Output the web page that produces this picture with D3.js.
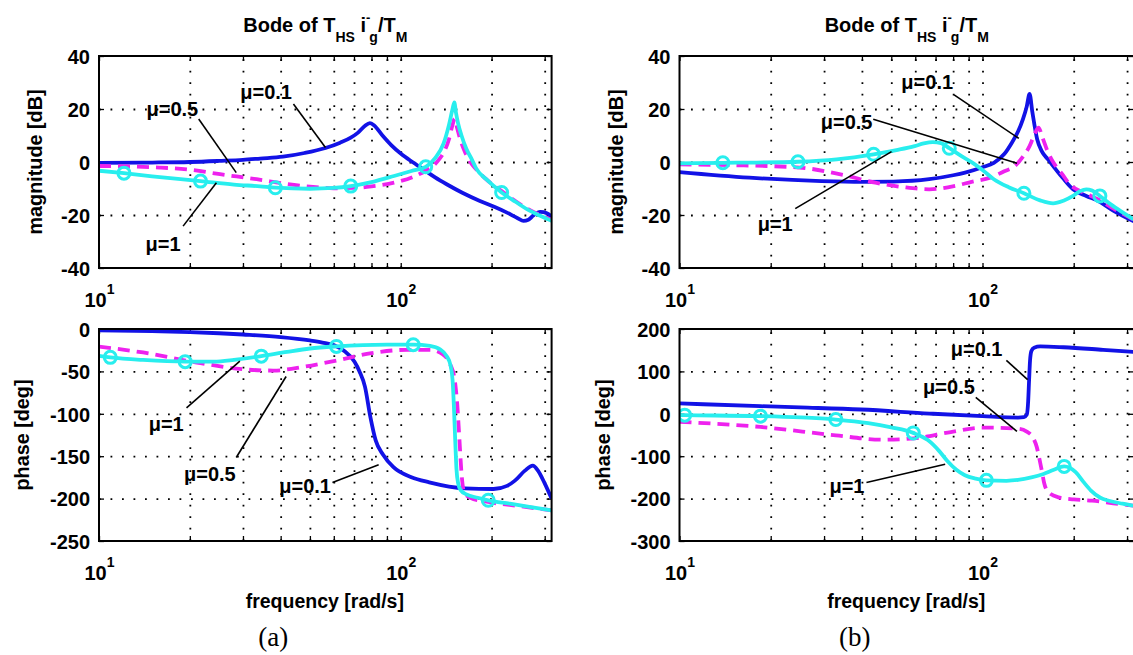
<!DOCTYPE html>
<html>
<head>
<meta charset="utf-8">
<script src="https://cdn.jsdelivr.net/npm/d3@7/dist/d3.min.js"></script>
<style>
  html, body { margin: 0; padding: 0; background: #fff; }
  svg { display: block; }
</style>
</head>
<body>
<svg id="chart" width="1133" height="655"></svg>
<script>
// ---- axis values ----
const freqDomain = [10, 316.23];
const freqGridTicks = [20, 30, 40, 50, 60, 70, 80, 90, 100, 200, 300];
const freqTickMarks = [10, 20, 30, 40, 50, 60, 70, 80, 90, 100, 200, 300];
const freqLabelTicks = [10, 100];
const magTicks = [-40, -20, 0, 20, 40];
const phaseTicksA = [-250, -200, -150, -100, -50, 0];
const phaseTicksB = [-300, -200, -100, 0, 100, 200];

// ---- (a) magnitude, [rad/s, dB] ----
const magA_mu01 = [[10,-0.3],[15,-0.2],[20,0],[25,0.4],[30,0.8],[34.2,1.3],[40.7,2],[48,3.4],[56.3,5.3],[63,7.3],[68.3,9.2],[72.2,11.1],[76,13.6],[79,14.7],[81.5,13.9],[87,10],[93,6.4],[100,3.2],[110,-0.2],[121,-3.4],[130,-5.8],[142,-8.4],[160,-11.6],[183,-14.7],[205,-17],[225,-19.1],[245,-21.3],[255,-22.2],[265,-21.8],[275,-20.2],[290,-18.8],[305,-19.3],[316.23,-20.6]];
const magA_mu05 = [[10,-1.5],[15.9,-2.1],[20,-2.9],[25.2,-4.6],[33.3,-6.5],[42,-8.3],[50,-9.3],[60,-9.9],[70,-9.8],[80,-9.2],[95,-7.8],[110,-5.6],[121,-3.3],[128,-1.5],[134,1],[138.7,3.5],[144.5,8.6],[148.5,14],[151,16.3],[154,12.5],[158,8],[163,4],[170,0],[178,-2.8],[192,-6.5],[216,-11],[262,-17.5],[316.23,-21.8]];
const magA_mu1 = [[10,-3.3],[12.1,-4.2],[15,-5.4],[21.7,-7.2],[28,-8.5],[34.2,-9.2],[38.4,-9.7],[50,-10.1],[60,-9.8],[68.3,-9.1],[80,-7.6],[95,-5.3],[108.5,-3.4],[121,-1.8],[130,1.5],[138.7,7],[144.5,14],[148.5,20],[150.5,22.5],[152.5,18.5],[155,14.5],[159,10],[165,5],[172,1],[178,-2.5],[192,-6.5],[216,-11.5],[240,-15],[262,-17.8],[290,-20.3],[316.23,-22.2]];
const magA_mu1Marks = [[12.1,-4.2],[21.7,-7.2],[38.4,-9.7],[68.3,-9.1],[121,-1.8],[216,-11.5]];

// ---- (a) phase, [rad/s, deg] ----
const phaseA_mu01 = [[10,-1.6],[15,-2.5],[20,-3.6],[25,-5],[30,-6.5],[40,-9.5],[50,-13.5],[55,-16],[60.4,-19.5],[65,-26],[70.2,-38.4],[73,-50],[76.1,-68],[79.3,-103.6],[82.6,-131.3],[87.3,-148],[94.6,-163],[108.5,-174.8],[124.3,-180.8],[163,-187.9],[203,-188.7],[225,-185],[239,-178.8],[258,-167],[274,-161],[285,-167],[300,-182],[316.23,-200]];
const phaseA_mu05 = [[10,-20.8],[14,-27.7],[21.7,-40.3],[30,-47.5],[38,-49],[48,-44.3],[61.2,-37.2],[80,-28.5],[105,-24.5],[125,-24.5],[138,-30],[146,-42],[151,-60],[154,-90],[156.5,-130],[159,-170],[162,-192],[170,-199],[195,-204],[250,-209],[316.23,-214]];
const phaseA_mu1 = [[10,-31.6],[10.9,-33.4],[14,-36.5],[19.3,-38.5],[24,-38.5],[28,-36.5],[34.5,-32],[42,-27],[50,-23],[61.2,-20.5],[75,-19],[90,-18.5],[110,-18.5],[125,-20],[135,-24],[142,-32],[146,-42],[148.5,-60],[150,-90],[151.5,-130],[153,-165],[155,-182],[158,-190],[165,-195],[180,-199],[195,-202],[230,-206],[270,-210],[316.23,-214]];
const phaseA_mu1Marks = [[10.9,-33.4],[19.3,-38.5],[34.5,-32],[61.2,-20.5],[110,-18.5],[195,-202]];

// ---- (b) magnitude, [rad/s, dB] ----
const magB_mu01 = [[10,-3.8],[17,-5.9],[29.4,-7.2],[40,-7.5],[50.8,-7.4],[66.7,-6.5],[80,-5],[87.6,-4],[100,-2],[109,-0.3],[118,3],[125,7.3],[131,11.5],[136,16.2],[140,21],[143,25.7],[146,19],[151.5,8.6],[157,4],[164.5,1],[183.6,-5.9],[199,-10.3],[220,-12.8],[241,-14.7],[270,-18.3],[316.23,-22.4]];
const magB_mu05 = [[10,-0.9],[15,-1.2],[24.9,-2.1],[35,-5],[44.3,-7.8],[55,-9.5],[66.7,-10.3],[80.5,-9.1],[92,-7.5],[106,-5.9],[118,-3.5],[128,-1.5],[136,2],[143,6],[148,10],[153,13],[158,9],[164,4],[172,-0.5],[183,-4.5],[194,-8.4],[215,-11.5],[241,-14.1],[270,-17.5],[316.23,-21.8]];
const magB_mu1 = [[10,-0.5],[13.9,-0.3],[18,-0.2],[24.6,0.1],[33,1],[43.7,2.9],[52,4.5],[59.7,6],[64,7],[68.6,7.5],[73,7.1],[77.7,5.2],[85,2.3],[92.8,-0.3],[100,-3],[109,-6.5],[122,-9.5],[137,-11.8],[155,-14.5],[171,-15.6],[185,-14.6],[199,-12.8],[210,-11],[220,-10.3],[230,-10.8],[244,-12.8],[265,-16],[290,-19],[316.23,-21.7]];
const magB_mu1Marks = [[13.9,-0.3],[24.6,0.1],[43.7,2.9],[77.7,5.2],[137,-11.8],[244,-12.8]];

// ---- (b) phase, [rad/s, deg] ----
const phaseB_mu01 = [[10,24.4],[18.5,18],[25,15],[39.7,10.1],[66.8,0.6],[100,-5.7],[131,-8.9],[137,-8],[140,-2],[141.5,30],[142.5,80],[143.5,125],[145,148],[148,156],[155,158.9],[185,157],[250,151],[316.23,146]];
const phaseB_mu05 = [[10,-19],[18.5,-31],[32.8,-50.8],[46.7,-61],[58,-58.7],[78.6,-43],[100,-32.6],[131,-35],[140,-42],[147,-57],[151,-78],[154,-105],[157,-135],[160,-165],[165,-185],[178,-197],[200,-202],[230,-205],[270,-211],[316.23,-217]];
const phaseB_mu1 = [[10,-3],[10.4,-3.2],[18.5,-5.5],[25,-8.5],[32.8,-13.5],[42,-22],[50,-32],[59.1,-45],[66,-62],[72,-88],[76.3,-110],[82,-132],[87.5,-145],[95,-153],[103,-157],[120,-158],[131,-156],[145,-150],[159,-141.8],[172,-132],[186,-124],[203,-137.8],[215,-160],[228,-181],[245,-198],[261,-205],[290,-212],[316.23,-217]];
const phaseB_mu1Marks = [[10.4,-3.2],[18.5,-5.5],[32.8,-13.5],[59.1,-45],[103,-157],[186,-124]];

// ---- curve labels: text anchor and leader line, in data units ----
const notesMagA = [
  { label: "μ=0.1", at: [35.8, 26.5], line: [[44.1, 21.9], [56.3, 5.5]] },
  { label: "μ=0.5", at: [17.5, 19.9], line: [[21.4, 16.2], [28.5, -4]] },
  { label: "μ=1",   at: [16.3, -31],  line: [[19.0, -24.2], [24.5, -7.8]] }
];
const notesPhaseA = [
  { label: "μ=1",   at: [16.7, -112], line: [[19.5, -93], [29.3, -38]] },
  { label: "μ=0.5", at: [23.3, -171], line: [[28.5, -151.5], [41.7, -56]] },
  { label: "μ=0.1", at: [48.2, -185], line: [[59.4, -181], [84.5, -160]] }
];
const notesMagB = [
  { label: "μ=0.1", at: [65.7, 30.4], line: [[80.6, 25.3], [131.8, 8.9]] },
  { label: "μ=0.5", at: [35.6, 15.3], line: [[43.6, 16.1], [130, -0.5]] },
  { label: "μ=1",   at: [20.7, -23.3], line: [[24.1, -17.6], [50.1, 3.9]] }
];
const notesPhaseB = [
  { label: "μ=0.1", at: [95.6, 153.8], line: [[119.9, 126], [140.9, 80.4]] },
  { label: "μ=0.5", at: [77.5, 64.6], line: [[95, 38.7], [129.9, -41.3]] },
  { label: "μ=1",   at: [35.7, -170], line: [[41.4, -162], [75.3, -118.9]] }
];

// ---- styles and layout ----
const SANS = '"Liberation Sans", Arial, Helvetica, sans-serif';
const SERIF = '"Liberation Serif", "Times New Roman", serif';
const COL_MU01 = "#1212e6", COL_MU05 = "#ee22ee", COL_MU1 = "#28eeee";

const columns = {
  a: { left: 99, right: 551.6, caption: "(a)" },
  b: { left: 679.5, right: 1134, caption: "(b)" }
};
const rows = {
  mag:   { top: 56,  bottom: 268, yDomain: [-40, 40], label: "magnitude [dB]", labelOffset: 64 },
  phase: { top: 329, bottom: 541, label: "phase [deg]", labelOffset: 77 }
};

const svg = d3.select("#chart");
svg.append("rect").attr("width", 1133).attr("height", 655).attr("fill", "#fff");

let clipCount = 0;

function drawPanel(col, row, yDomain, yTicks, curves, marks, notes, withTitle) {
  const x = d3.scaleLog().domain(freqDomain).range([col.left, col.right]);
  const y = d3.scaleLinear().domain(yDomain).range([row.bottom, row.top]);
  const w = col.right - col.left, h = row.bottom - row.top;
  const g = svg.append("g");

  const clipId = "plotclip" + (clipCount++);
  svg.append("clipPath").attr("id", clipId)
    .append("rect").attr("x", col.left).attr("y", row.top).attr("width", w).attr("height", h);

  // dotted grid
  const gridStyle = s => {
    s.select(".domain").remove();
    s.selectAll(".tick line")
      .attr("stroke", "#000").attr("stroke-width", 1.8)
      .attr("stroke-dasharray", "1.8,9.7");
  };
  g.append("g").attr("transform", `translate(0,${row.bottom})`)
    .call(d3.axisBottom(x).tickValues(freqGridTicks).tickSize(-h).tickFormat(""))
    .call(gridStyle);
  g.append("g").attr("transform", `translate(${col.left},0)`)
    .call(d3.axisLeft(y).tickValues(yTicks.slice(1, -1)).tickSize(-w).tickFormat(""))
    .call(gridStyle);

  // inner tick marks
  const tickStyle = s => {
    s.select(".domain").remove();
    s.selectAll(".tick line").attr("stroke", "#000").attr("stroke-width", 1.3);
  };
  g.append("g").attr("transform", `translate(0,${row.bottom})`)
    .call(d3.axisBottom(x).tickValues(freqTickMarks).tickSize(-5).tickFormat("")).call(tickStyle);
  g.append("g").attr("transform", `translate(0,${row.top})`)
    .call(d3.axisTop(x).tickValues(freqTickMarks).tickSize(-5).tickFormat("")).call(tickStyle);
  g.append("g").attr("transform", `translate(${col.right},0)`)
    .call(d3.axisRight(y).tickValues(yTicks).tickSize(-5).tickFormat("")).call(tickStyle);

  // y tick labels
  g.append("g").attr("transform", `translate(${col.left},0)`)
    .call(d3.axisLeft(y).tickValues(yTicks).tickSize(5).tickSizeOuter(0).tickPadding(4).tickFormat(d3.format("d")))
    .call(s => {
      s.select(".domain").remove();
      s.selectAll(".tick line").attr("stroke", "#000").attr("stroke-width", 1.3).attr("x2", 5);
      s.selectAll(".tick text")
        .attr("x", -9).attr("dy", "0.36em")
        .attr("font-family", SANS).attr("font-weight", "bold").attr("font-size", 20)
        .attr("fill", "#000")
        .text(d => d < 0 ? "-" + Math.abs(d) : String(d));
    });

  // x tick labels: 10^1, 10^2
  g.append("g").attr("transform", `translate(0,${row.bottom})`)
    .call(d3.axisBottom(x).tickValues(freqLabelTicks).tickSize(0).tickFormat(""))
    .call(s => {
      s.select(".domain").remove();
      s.selectAll(".tick text").remove();
      s.selectAll(".tick").append("text")
        .attr("y", 38.5).attr("text-anchor", "middle").attr("fill", "#000")
        .attr("font-family", SANS).attr("font-weight", "bold").attr("font-size", 20)
        .each(function (d) {
          const t = d3.select(this);
          t.append("tspan").text("10");
          t.append("tspan").attr("font-size", 14).attr("dy", -13).text(String(Math.round(Math.log10(d))));
        });
    });

  // curves
  const line = d3.line().x(d => x(d[0])).y(d => y(d[1])).curve(d3.curveMonotoneX);
  const plot = g.append("g").attr("clip-path", `url(#${clipId})`);
  curves.forEach(c => {
    plot.append("path").datum(c.data)
      .attr("d", line).attr("fill", "none")
      .attr("stroke", c.color).attr("stroke-width", 3.8)
      .attr("stroke-linejoin", "round")
      .attr("stroke-dasharray", c.dash || null);
  });
  plot.selectAll("circle.mk").data(marks).join("circle").attr("class", "mk")
    .attr("cx", d => x(d[0])).attr("cy", d => y(d[1])).attr("r", 6)
    .attr("fill", "none").attr("stroke", COL_MU1).attr("stroke-width", 3);

  // frame
  g.append("rect").attr("x", col.left).attr("y", row.top).attr("width", w).attr("height", h)
    .attr("fill", "none").attr("stroke", "#000").attr("stroke-width", 2);

  // curve labels with leader lines
  notes.forEach(n => {
    g.append("line")
      .attr("x1", x(n.line[0][0])).attr("y1", y(n.line[0][1]))
      .attr("x2", x(n.line[1][0])).attr("y2", y(n.line[1][1]))
      .attr("stroke", "#000").attr("stroke-width", 1.6);
    g.append("text")
      .attr("x", x(n.at[0])).attr("y", y(n.at[1])).attr("dy", "0.36em")
      .attr("text-anchor", "middle").attr("fill", "#000")
      .attr("font-family", SANS).attr("font-weight", "bold").attr("font-size", 20)
      .text(n.label);
  });

  // axis title
  g.append("text")
    .attr("transform", `translate(${col.left - row.labelOffset},${(row.top + row.bottom) / 2}) rotate(-90)`)
    .attr("dy", "0.36em").attr("text-anchor", "middle").attr("fill", "#000")
    .attr("font-family", SANS).attr("font-weight", "bold").attr("font-size", 19.8)
    .text(row.label);

  if (withTitle) {
    const t = g.append("text")
      .attr("x", (col.left + col.right) / 2).attr("y", 31.5)
      .attr("text-anchor", "middle").attr("fill", "#000")
      .attr("font-family", SANS).attr("font-weight", "bold").attr("font-size", 20);
    t.append("tspan").text("Bode of T");
    t.append("tspan").attr("font-size", 14).attr("dy", 10.5).text("HS");
    t.append("tspan").attr("dy", -10.5).text(" i");
    t.append("tspan").attr("font-size", 13).attr("dy", -9.3).text("-");
    t.append("tspan").attr("font-size", 14).attr("dx", -1).attr("dy", 19.8).text("g");
    t.append("tspan").attr("dy", -10.5).text("/T");
    t.append("tspan").attr("font-size", 14).attr("dy", 10.5).text("M");
  } else {
    g.append("text")
      .attr("x", (col.left + col.right) / 2 - 0.5).attr("y", 601).attr("dy", "0.36em")
      .attr("text-anchor", "middle").attr("fill", "#000")
      .attr("font-family", SANS).attr("font-weight", "bold").attr("font-size", 19.5)
      .text("frequency [rad/s]");
    g.append("text")
      .attr("x", (col.left + col.right) / 2 - 52).attr("y", 646)
      .attr("text-anchor", "middle").attr("fill", "#000")
      .attr("font-family", SERIF).attr("font-size", 27)
      .text(col.caption);
  }
}

const series = (d01, d05, d1) => [
  { data: d01, color: COL_MU01 },
  { data: d05, color: COL_MU05, dash: "12,7" },
  { data: d1,  color: COL_MU1 }
];

drawPanel(columns.a, rows.mag, rows.mag.yDomain, magTicks,
  series(magA_mu01, magA_mu05, magA_mu1), magA_mu1Marks, notesMagA, true);
drawPanel(columns.a, rows.phase, [-250, 0], phaseTicksA,
  series(phaseA_mu01, phaseA_mu05, phaseA_mu1), phaseA_mu1Marks, notesPhaseA, false);
drawPanel(columns.b, rows.mag, rows.mag.yDomain, magTicks,
  series(magB_mu01, magB_mu05, magB_mu1), magB_mu1Marks, notesMagB, true);
drawPanel(columns.b, rows.phase, [-300, 200], phaseTicksB,
  series(phaseB_mu01, phaseB_mu05, phaseB_mu1), phaseB_mu1Marks, notesPhaseB, false);
</script>
</body>
</html>
